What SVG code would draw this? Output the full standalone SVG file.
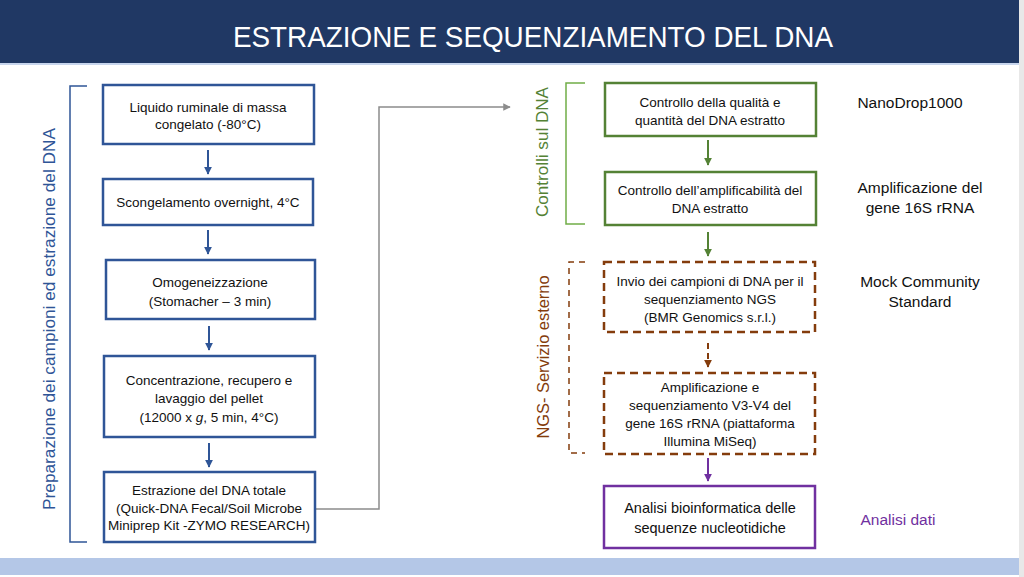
<svg xmlns="http://www.w3.org/2000/svg" width="1024" height="577" viewBox="0 0 1024 577">
<style>
  text { font-family: "Liberation Sans", Arial, sans-serif; }
  .bt { font-size: 13.5px; fill: #111; text-anchor: middle; }
  .lbl { font-size: 15.5px; fill: #111; text-anchor: middle; }
  .blue { fill: #fff; stroke: #2F5597; stroke-width: 2.5; }
  .green { fill: #fff; stroke: #548235; stroke-width: 2.5; }
  .brown { fill: #fff; stroke: #843C0C; stroke-width: 2.5; stroke-dasharray: 8 5; }
  .purple { fill: #fff; stroke: #7030A0; stroke-width: 2.5; }
  .side { font-size: 17px; text-anchor: middle; }
</style>
<defs>
  <marker id="mBlue" viewBox="0 0 10 10" refX="9" refY="5" markerWidth="4" markerHeight="4" orient="auto"><path d="M0,0 L10,5 L0,10 z" fill="#2F5597"/></marker>
  <marker id="mGreen" viewBox="0 0 10 10" refX="9" refY="5" markerWidth="4" markerHeight="4" orient="auto"><path d="M0,0 L10,5 L0,10 z" fill="#548235"/></marker>
  <marker id="mBrown" viewBox="0 0 10 10" refX="9" refY="5" markerWidth="4" markerHeight="4" orient="auto"><path d="M0,0 L10,5 L0,10 z" fill="#843C0C"/></marker>
  <marker id="mPurple" viewBox="0 0 10 10" refX="9" refY="5" markerWidth="4" markerHeight="4" orient="auto"><path d="M0,0 L10,5 L0,10 z" fill="#7030A0"/></marker>
  <marker id="mGray" viewBox="0 0 10 10" refX="9" refY="5" markerWidth="5" markerHeight="5" orient="auto"><path d="M0,0 L10,5 L0,10 z" fill="#8C8C8C"/></marker>
</defs>

<rect x="0" y="0" width="1024" height="577" fill="#fff"/>
<rect x="1019" y="0" width="5" height="577" fill="#E8E8E8"/>

<g id="header">
  <rect x="0" y="0" width="1019" height="63" fill="#203864"/>
  <line x1="0" y1="64" x2="1019" y2="64" stroke="#B4C7E7" stroke-width="1.5"/>
  <text x="533" y="47" font-size="30" fill="#fff" text-anchor="middle" textLength="600" lengthAdjust="spacingAndGlyphs">ESTRAZIONE E SEQUENZIAMENTO DEL DNA</text>
</g>
<g id="footer">
  <rect x="0" y="558" width="1019" height="17" fill="#B4C7E7"/>
</g>

<g id="bracket-prep">
  <path d="M87,86 H70 V542 H87" fill="none" stroke="#2F5597" stroke-width="1.5"/>
  <text class="side" fill="#2F5597" transform="translate(55,319) rotate(-90)" x="0" y="0" textLength="382" lengthAdjust="spacingAndGlyphs">Preparazione dei campioni ed estrazione del DNA</text>
</g>
<g id="bracket-controlli">
  <path d="M585,83 H566 V224 H585" fill="none" stroke="#70AD47" stroke-width="1.5"/>
  <text class="side" fill="#548235" transform="translate(548,152) rotate(-90)" x="0" y="0" textLength="130" lengthAdjust="spacingAndGlyphs">Controlli sul DNA</text>
</g>
<g id="bracket-ngs">
  <path d="M585,262 H569 V453 H585" fill="none" stroke="#843C0C" stroke-width="1.5" stroke-dasharray="6 5"/>
  <text class="side" fill="#843C0C" transform="translate(549,357) rotate(-90)" x="0" y="0" textLength="163" lengthAdjust="spacingAndGlyphs">NGS- Servizio esterno</text>
</g>

<g id="connectors" fill="none" stroke-width="2">
  <line x1="208" y1="150" x2="208" y2="174" stroke="#2F5597" marker-end="url(#mBlue)"/>
  <line x1="208" y1="230" x2="208" y2="254" stroke="#2F5597" marker-end="url(#mBlue)"/>
  <line x1="209" y1="326" x2="209" y2="350" stroke="#2F5597" marker-end="url(#mBlue)"/>
  <line x1="209" y1="443" x2="209" y2="467" stroke="#2F5597" marker-end="url(#mBlue)"/>
  <path d="M315,509 H379 V107 H510" stroke="#8C8C8C" stroke-width="1.5" marker-end="url(#mGray)"/>
  <line x1="708" y1="140" x2="708" y2="165" stroke="#548235" marker-end="url(#mGreen)"/>
  <line x1="708" y1="232" x2="708" y2="256" stroke="#548235" marker-end="url(#mGreen)"/>
  <line x1="708" y1="343" x2="708" y2="367" stroke="#843C0C" stroke-dasharray="6 4" marker-end="url(#mBrown)"/>
  <line x1="708" y1="458" x2="708" y2="481" stroke="#7030A0" marker-end="url(#mPurple)"/>
</g>

<g id="n1"><rect class="blue" x="103" y="85" width="211" height="59"/>
  <text class="bt" x="208" y="112">Liquido ruminale di massa</text>
  <text class="bt" x="208" y="129">congelato (-80°C)</text></g>
<g id="n2"><rect class="blue" x="103" y="179" width="210" height="46"/>
  <text class="bt" x="208" y="207">Scongelamento overnight, 4°C</text></g>
<g id="n3"><rect class="blue" x="106" y="260" width="209" height="59"/>
  <text class="bt" x="210" y="287">Omogeneizzazione</text>
  <text class="bt" x="210" y="306">(Stomacher – 3 min)</text></g>
<g id="n4"><rect class="blue" x="104" y="356" width="211" height="81"/>
  <text class="bt" x="209" y="385">Concentrazione, recupero e</text>
  <text class="bt" x="209" y="403">lavaggio del pellet</text>
  <text class="bt" x="209" y="422">(12000 x <tspan font-style="italic">g</tspan>, 5 min, 4°C)</text></g>
<g id="n5"><rect class="blue" x="104" y="472" width="211" height="70"/>
  <text class="bt" x="209" y="495">Estrazione del DNA totale</text>
  <text class="bt" x="209" y="513">(Quick-DNA Fecal/Soil Microbe</text>
  <text class="bt" x="209" y="530">Miniprep Kit -ZYMO RESEARCH)</text></g>

<g id="n6"><rect class="green" x="605" y="83" width="211" height="53"/>
  <text class="bt" x="710" y="107">Controllo della qualità e</text>
  <text class="bt" x="710" y="125">quantità del DNA estratto</text></g>
<g id="n7"><rect class="green" x="605" y="172" width="211" height="53"/>
  <text class="bt" x="710" y="195">Controllo dell’amplificabilità del</text>
  <text class="bt" x="710" y="213">DNA estratto</text></g>
<g id="n8"><rect class="brown" x="604" y="262" width="211" height="70"/>
  <text class="bt" x="710" y="286">Invio dei campioni di DNA per il</text>
  <text class="bt" x="710" y="304">sequenziamento NGS</text>
  <text class="bt" x="710" y="322">(BMR Genomics s.r.l.)</text></g>
<g id="n9"><rect class="brown" x="604" y="373" width="211" height="81"/>
  <text class="bt" x="710" y="392">Amplificazione e</text>
  <text class="bt" x="710" y="410">sequenziamento V3-V4 del</text>
  <text class="bt" x="710" y="428">gene 16S rRNA (piattaforma</text>
  <text class="bt" x="710" y="446">Illumina MiSeq)</text></g>
<g id="n10"><rect class="purple" x="604" y="486" width="211" height="62"/>
  <text class="bt" x="710" y="513" font-size="14.5" style="font-size:14.5px">Analisi bioinformatica delle</text>
  <text class="bt" x="710" y="533" font-size="14.5" style="font-size:14.5px">sequenze nucleotidiche</text></g>

<g id="labels">
  <text class="lbl" x="910" y="108">NanoDrop1000</text>
  <text class="lbl" x="920" y="193">Amplificazione del</text>
  <text class="lbl" x="920" y="213">gene 16S rRNA</text>
  <text class="lbl" x="920" y="287">Mock Community</text>
  <text class="lbl" x="920" y="307">Standard</text>
  <text class="lbl" x="898" y="525" style="fill:#7030A0">Analisi dati</text>
</g>
</svg>
